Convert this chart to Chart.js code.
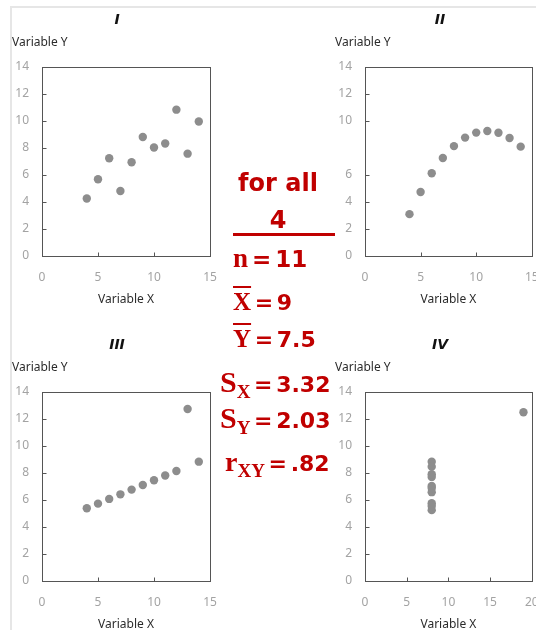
<!DOCTYPE html>
<html>
<head>
<meta charset="utf-8">
<script src="https://cdn.jsdelivr.net/npm/chart.js@4.4.0/dist/chart.umd.min.js"></script>
<style>
  html, body { margin: 0; padding: 0; background: #fff; }
  body { width: 536px; height: 630px; position: relative; overflow: hidden; font-family: "Noto Sans", sans-serif; }
  .frame { position: absolute; left: 10px; top: 6px; right: -4px; bottom: -4px;
           border-top: 2px solid #e6e6e6; border-left: 2px solid #e6e6e6; }
  .panel { position: absolute; display: block; }
  .stats { position: absolute; left: 0; top: 0; color: #c00000; font-weight: bold; }
  .stats div { position: absolute; white-space: nowrap; height: 34px; line-height: 34px; }
  .num { font-family: "DejaVu Sans", sans-serif; }
  .eq { word-spacing: -4px; }
  .sym { font-family: "Liberation Serif", serif; }
  .bar { text-decoration: overline; text-decoration-thickness: 2px; }
  .sub { font-size: 19px; position: relative; top: 6px; }
  .rule { position: absolute; left: 233px; top: 233px; width: 102px; height: 3px; background: #c00000; }
</style>
</head>
<body>
<div class="frame"></div>
<canvas class="panel" id="chart1" width="236" height="310" style="left:0;top:0"></canvas>
<canvas class="panel" id="chart2" width="213" height="310" style="left:323px;top:0"></canvas>
<canvas class="panel" id="chart3" width="236" height="310" style="left:0;top:325px"></canvas>
<canvas class="panel" id="chart4" width="213" height="310" style="left:323px;top:325px"></canvas>

<div class="stats">
  <div class="num" style="left:218px;top:166px;width:120px;text-align:center;font-size:24px">for all</div>
  <div class="num" style="left:218px;top:203px;width:120px;text-align:center;font-size:24px">4</div>
  <div style="left:233px;top:241px"><span class="sym" style="font-size:27px">n</span><span class="num eq" style="font-size:23px"> = 11</span></div>
  <div style="left:233px;top:285px"><span class="sym bar" style="font-size:25px">X</span><span class="num eq" style="font-size:22px"> = 9</span></div>
  <div style="left:233px;top:322px"><span class="sym bar" style="font-size:25px">Y</span><span class="num eq" style="font-size:22px"> = 7.5</span></div>
  <div style="left:220px;top:365px"><span class="sym" style="font-size:30px">S</span><span class="sym sub">X</span><span class="num eq" style="font-size:22px"> = 3.32</span></div>
  <div style="left:220px;top:401px"><span class="sym" style="font-size:30px">S</span><span class="sym sub">Y</span><span class="num eq" style="font-size:22px"> = 2.03</span></div>
  <div style="left:225px;top:445px"><span class="sym" style="font-size:28px">r</span><span class="sym sub">XY</span><span class="num eq" style="font-size:22px"> = .82</span></div>
</div>
<div class="rule"></div>

<script>
'use strict';

// Anscombe's quartet
const xShared = [10, 8, 13, 9, 11, 14, 6, 4, 12, 7, 5];
const xFour = [8, 8, 8, 8, 8, 8, 8, 19, 8, 8, 8];
const yOne = [8.04, 6.95, 7.58, 8.81, 8.33, 9.96, 7.24, 4.26, 10.84, 4.82, 5.68];
const yTwo = [9.14, 8.14, 8.74, 8.77, 9.26, 8.10, 6.13, 3.10, 9.13, 7.26, 4.74];
const yThree = [7.46, 6.77, 12.74, 7.11, 7.81, 8.84, 6.08, 5.39, 8.15, 6.42, 5.73];
const yFour = [6.58, 5.76, 7.71, 8.84, 8.47, 7.04, 5.25, 12.50, 5.56, 7.91, 6.89];

const xTicks15 = [0, 5, 10, 15];
const xTicks20 = [0, 5, 10, 15, 20];
const yTicksFull = [0, 2, 4, 6, 8, 10, 12, 14];
const yTicksGap = [0, 2, 4, 6, 10, 12, 14];

const panelTitles = ['I', 'II', 'III', 'IV'];

const dotColor = '#8d8d8d';
const tickColor = '#a3a3a3';
const axisColor = '#555555';
const textColor = '#2b2b2b';
const fontFamily = '"Noto Sans", sans-serif';

// box, inner tick marks, panel title and y caption
const panelDecor = {
  id: 'panelDecor',
  beforeDatasetsDraw(chart, args, opts) {
    const ctx = chart.ctx;
    const a = chart.chartArea;
    const l = Math.round(a.left) + 0.5, t = Math.round(a.top) + 0.5;
    const r = Math.round(a.right) + 0.5, b = Math.round(a.bottom) + 0.5;
    ctx.save();
    ctx.strokeStyle = axisColor;
    ctx.lineWidth = 1;
    ctx.strokeRect(l, t, r - l, b - t);
    ctx.beginPath();
    const xt = chart.scales.x.ticks;
    xt.slice(1, -1).forEach(tk => {
      const px = Math.round(chart.scales.x.getPixelForValue(tk.value)) + 0.5;
      ctx.moveTo(px, b); ctx.lineTo(px, b - 4);
    });
    const yt = chart.scales.y.ticks;
    yt.slice(1, -1).forEach(tk => {
      const py = Math.round(chart.scales.y.getPixelForValue(tk.value)) + 0.5;
      ctx.moveTo(l, py); ctx.lineTo(l + 4, py);
    });
    ctx.stroke();

    ctx.fillStyle = '#111';
    ctx.textAlign = 'center';
    ctx.textBaseline = 'middle';
    ctx.font = 'italic bold 14px "DejaVu Sans", sans-serif';
    ctx.fillText(opts.title, a.left + 75, 20);

    ctx.fillStyle = textColor;
    ctx.textAlign = 'left';
    ctx.font = '12px ' + fontFamily;
    ctx.fillText('Variable Y', a.left - 30, 43);
    ctx.restore();
  }
};

function makePanel(canvasId, title, xs, ys, xTicks, yTicks, padRight) {
  const ctx = document.getElementById(canvasId).getContext('2d');
  const points = xs.map((x, i) => ({ x: x, y: ys[i] }));
  return new Chart(ctx, {
    type: 'scatter',
    data: {
      datasets: [{
        data: points,
        backgroundColor: dotColor,
        borderWidth: 0,
        pointRadius: 4.2,
        pointHoverRadius: 4.2
      }]
    },
    options: {
      responsive: false,
      animation: false,
      events: [],
      layout: { padding: { top: 67, right: padRight, left: 0, bottom: 0 } },
      plugins: {
        legend: { display: false },
        tooltip: { enabled: false },
        panelDecor: { title: title }
      },
      scales: {
        x: {
          type: 'linear',
          min: xTicks[0],
          max: xTicks[xTicks.length - 1],
          afterBuildTicks: s => { s.ticks = xTicks.map(v => ({ value: v })); },
          afterFit: s => { s.height = 54; s.paddingLeft = 0; s.paddingRight = 0; },
          grid: { display: false, drawTicks: false },
          border: { display: false },
          ticks: { color: tickColor, font: { size: 12, family: fontFamily }, padding: 14, maxRotation: 0, autoSkip: false },
          title: { display: true, text: 'Variable X', color: textColor, font: { size: 12, family: fontFamily }, padding: { top: 0, bottom: 3 } }
        },
        y: {
          type: 'linear',
          min: yTicks[0],
          max: yTicks[yTicks.length - 1],
          afterBuildTicks: s => { s.ticks = yTicks.map(v => ({ value: v })); },
          afterFit: s => { s.width = 42; s.paddingTop = 0; s.paddingBottom = 0; },
          grid: { display: false, drawTicks: false },
          border: { display: false },
          ticks: { color: tickColor, font: { size: 12, family: fontFamily }, padding: 13, autoSkip: false }
        }
      }
    },
    plugins: [panelDecor]
  });
}

makePanel('chart1', panelTitles[0], xShared, yOne, xTicks15, yTicksFull, 26);
makePanel('chart2', panelTitles[1], xShared, yTwo, xTicks15, yTicksGap, 3);
makePanel('chart3', panelTitles[2], xShared, yThree, xTicks15, yTicksFull, 26);
makePanel('chart4', panelTitles[3], xFour, yFour, xTicks20, yTicksFull, 3);
</script>
</body>
</html>
